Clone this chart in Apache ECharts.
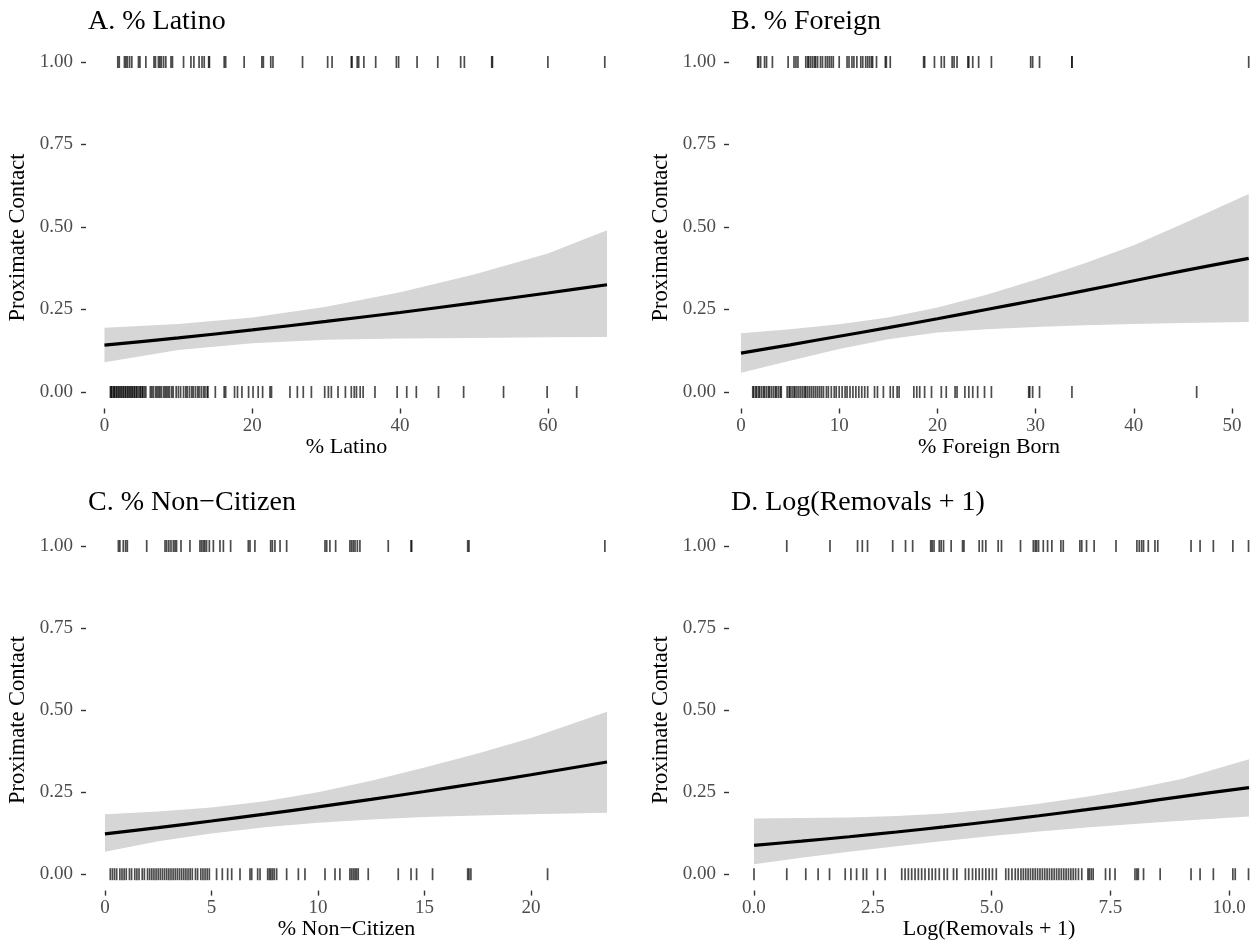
<!DOCTYPE html>
<html><head><meta charset="utf-8">
<script src="https://cdn.jsdelivr.net/npm/echarts@6/dist/echarts.min.js"></script>
<style>html,body{margin:0;padding:0;background:#fff}#c{width:1255px;height:951px}</style>
</head><body><div id="c"></div><script>
// ---------------- data ----------------
const yTicks = [0, 0.25, 0.5, 0.75, 1];
const latinoTicks = [0, 20, 40, 60];
const foreignTicks = [0, 10, 20, 30, 40, 50];
const nonCitTicks = [0, 5, 10, 15, 20];
const removalsTicks = [0, 2.5, 5, 7.5, 10];

// fitted curves and 95% bands
const latinoFitX = [0, 10, 20, 30, 40, 50, 60, 68.0];
const latinoFit  = [0.142, 0.164, 0.188, 0.214, 0.241, 0.270, 0.300, 0.325];
const latinoHi   = [0.195, 0.206, 0.226, 0.258, 0.302, 0.356, 0.420, 0.490];
const latinoLo   = [0.090, 0.127, 0.148, 0.158, 0.162, 0.164, 0.166, 0.167];

const foreignFitX = [0, 5, 10, 15, 20, 25, 30, 35, 40, 45, 51.7];
const foreignFit  = [0.118, 0.143, 0.169, 0.195, 0.222, 0.250, 0.278, 0.307, 0.337, 0.367, 0.405];
const foreignHi   = [0.178, 0.190, 0.205, 0.226, 0.256, 0.295, 0.340, 0.390, 0.445, 0.510, 0.600];
const foreignLo   = [0.058, 0.095, 0.130, 0.160, 0.180, 0.190, 0.197, 0.202, 0.206, 0.209, 0.212];

const nonCitFitX = [0, 2.5, 5, 7.5, 10, 12.5, 15, 17.5, 20, 23.57];
const nonCitFit  = [0.123, 0.142, 0.162, 0.183, 0.205, 0.228, 0.252, 0.277, 0.303, 0.342];
const nonCitHi   = [0.183, 0.191, 0.203, 0.222, 0.250, 0.285, 0.325, 0.368, 0.415, 0.495];
const nonCitLo   = [0.068, 0.100, 0.124, 0.143, 0.157, 0.167, 0.174, 0.179, 0.183, 0.187];

const removalsFitX = [0, 1, 2, 3, 4, 5, 6, 7, 8, 9, 10.42];
const removalsFit  = [0.088, 0.1005, 0.114, 0.1285, 0.144, 0.1605, 0.178, 0.1965, 0.216, 0.2365, 0.264];
const removalsHi   = [0.170, 0.171, 0.173, 0.177, 0.185, 0.198, 0.215, 0.236, 0.260, 0.290, 0.350];
const removalsLo   = [0.030, 0.050, 0.068, 0.085, 0.101, 0.116, 0.130, 0.142, 0.153, 0.163, 0.176];

// observed outcomes (rug marks) at y = 1 and y = 0
const latino1 = [1.8,2.0,2.7,2.9,3.1,3.4,3.7,4.6,4.8,5.6,6.7,6.9,7.3,7.5,7.7,8.0,8.3,9.0,9.2,10.7,11.7,12.1,12.8,13.2,13.5,14.1,14.2,16.2,16.4,18.9,21.3,21.5,22.5,22.8,26.8,30.2,30.8,33.4,33.5,34.2,34.4,35.1,36.7,39.5,39.8,42.3,45.1,48.2,48.7,52.4,52.5,60.0,67.7];
const latino0 = [0.8,0.9,1.0,1.2,1.3,1.4,1.6,1.7,1.9,2.0,2.2,2.3,2.5,2.6,2.8,2.9,3.1,3.2,3.4,3.5,3.7,3.8,4.0,4.1,4.3,4.4,4.6,4.8,4.9,5.1,5.2,5.4,5.6,6.2,6.4,6.6,6.9,7.1,7.3,7.5,7.7,8.0,8.2,8.4,8.6,8.8,9.1,9.3,9.7,10.0,10.3,10.7,11.0,11.2,11.5,11.8,12.0,12.3,12.6,12.8,13.1,13.4,13.6,13.9,14.0,15.0,16.2,16.4,17.6,18.0,18.6,19.5,20.1,20.8,21.4,22.4,22.6,25.1,26.1,26.9,28.0,29.8,30.3,30.7,31.6,32.6,33.4,33.8,34.1,34.6,35.0,36.6,39.6,40.9,42.2,45.2,48.6,54.0,59.9,63.9];

const foreign1 = [1.7,1.8,2.0,2.4,2.6,3.2,4.8,5.4,5.6,5.8,6.6,6.8,6.9,7.1,7.3,7.5,7.6,7.8,8.1,8.3,8.6,8.8,9.0,9.2,9.4,10.0,10.8,11.0,11.3,11.5,11.8,12.2,12.4,12.7,12.9,13.1,13.3,13.4,13.8,14.7,14.8,15.2,18.6,18.7,19.7,20.4,20.7,21.5,21.7,22.0,23.1,23.2,23.6,24.2,25.5,29.5,29.7,30.4,33.7,33.7,51.7];
const foreign0 = [1.2,1.3,1.5,1.6,1.8,1.9,2.1,2.3,2.4,2.6,2.8,2.9,3.1,3.3,3.5,3.6,3.8,4.0,4.1,4.7,4.9,5.0,5.2,5.4,5.5,5.7,5.9,6.1,6.3,6.5,6.6,6.8,7.0,7.2,7.4,7.6,7.8,8.0,8.2,8.4,8.7,8.9,9.2,9.5,9.7,10.0,10.3,10.6,10.8,11.1,11.4,11.7,12.0,12.3,12.6,12.9,13.6,13.9,14.5,15.2,15.5,15.9,16.1,17.6,17.9,18.2,18.7,19.4,20.4,20.9,21.8,22.0,22.8,23.2,23.6,24.1,24.8,25.5,29.3,29.4,29.7,30.4,33.7,46.4];

const nonCit1 = [0.63,0.70,0.86,0.97,1.05,1.96,2.82,2.90,3.0,3.1,3.21,3.29,3.36,3.57,3.99,4.46,4.54,4.62,4.69,4.77,4.90,5.09,5.40,5.56,5.90,6.73,6.81,7.04,7.78,7.86,7.98,8.22,8.53,10.33,10.41,10.56,10.83,11.5,11.58,11.66,11.74,11.85,11.97,13.3,14.37,14.4,17.03,17.09,23.47];
const nonCit0 = [0.25,0.35,0.45,0.55,0.7,0.8,0.9,1.0,1.15,1.25,1.4,1.5,1.6,1.75,1.85,2.0,2.1,2.2,2.3,2.4,2.5,2.6,2.7,2.8,2.9,3.0,3.1,3.2,3.3,3.4,3.5,3.6,3.7,3.8,3.9,4.0,4.1,4.25,4.35,4.5,4.6,4.7,4.8,4.9,5.24,5.51,5.76,5.95,6.34,6.81,6.89,7.17,7.28,7.64,7.72,7.79,7.87,7.95,8.06,8.53,9.08,9.39,10.33,10.8,11.03,11.5,11.58,11.66,11.74,11.81,11.89,12.36,13.77,14.37,14.63,15.38,17.03,17.09,17.18,20.78];

const removals1 = [0.69,1.6,2.18,2.28,2.39,2.92,3.19,3.34,3.72,3.75,3.79,3.90,3.94,3.99,4.15,4.39,4.42,4.74,4.81,4.88,5.14,5.21,5.61,5.88,5.92,5.95,5.99,6.09,6.18,6.27,6.46,6.51,6.86,6.9,7.0,7.16,7.62,8.06,8.11,8.16,8.2,8.3,8.44,8.5,9.2,9.39,9.67,10.08,10.41];
const removals0 = [0,0.69,1.09,1.35,1.59,1.92,2.04,2.16,2.3,2.37,2.6,2.76,3.11,3.18,3.25,3.32,3.39,3.46,3.53,3.6,3.68,3.75,3.82,3.9,4.0,4.07,4.2,4.27,4.45,4.52,4.6,4.67,4.74,4.81,4.88,4.95,5.02,5.1,5.3,5.36,5.43,5.5,5.56,5.62,5.67,5.72,5.77,5.82,5.87,5.92,5.97,6.02,6.07,6.12,6.17,6.22,6.27,6.32,6.37,6.42,6.47,6.52,6.57,6.62,6.67,6.72,6.77,6.83,6.9,7.03,7.06,7.1,7.14,7.4,7.49,7.6,8.02,8.06,8.09,8.2,8.55,9.2,9.39,9.67,10.08,10.13,10.41];

// ---------------- layout / style ----------------
const FONT = '"Liberation Serif","Times New Roman",serif';
const panels = [
  {title:'A. % Latino', xname:'% Latino', left:86, top:45.5, width:521, height:363, xmin:-2.5, xmax:68.0, ticks:latinoTicks, dec:0, ty:22, ny:237.5,
   fx:latinoFitX, fit:latinoFit, hi:latinoHi, lo:latinoLo, r1:latino1, r0:latino0},
  {title:'B. % Foreign', xname:'% Foreign Born', left:729, top:45.5, width:520, height:363, xmin:-1.22, xmax:51.73, ticks:foreignTicks, dec:0, ty:22, ny:237.5,
   fx:foreignFitX, fit:foreignFit, hi:foreignHi, lo:foreignLo, r1:foreign1, r0:foreign0},
  {title:'C. % Non\u2212Citizen', xname:'% Non\u2212Citizen', left:86, top:529.6, width:521, height:361, xmin:-0.89, xmax:23.57, ticks:nonCitTicks, dec:0, ty:503, ny:720,
   fx:nonCitFitX, fit:nonCitFit, hi:nonCitHi, lo:nonCitLo, r1:nonCit1, r0:nonCit0},
  {title:'D. Log(Removals + 1)', xname:'Log(Removals + 1)', left:729, top:529.6, width:520, height:361, xmin:-0.526, xmax:10.42, ticks:removalsTicks, dec:1, ty:503, ny:720,
   fx:removalsFitX, fit:removalsFit, hi:removalsHi, lo:removalsLo, r1:removals1, r0:removals0}
];

const grid = [], xAxis = [], yAxis = [], series = [], graphic = [];
panels.forEach((p, i) => {
  grid.push({left:p.left, top:p.top, width:p.width, height:p.height, containLabel:false, outerBoundsMode:'none'});
  xAxis.push({
    type:'value', gridIndex:i, min:p.xmin, max:p.xmax,
    axisLine:{show:false, onZero:false}, splitLine:{show:false},
    axisTick:{show:true, length:5, lineStyle:{color:'#333', width:1.4}, customValues:p.ticks},
    axisLabel:{color:'#4D4D4D', fontFamily:FONT, fontSize:19, margin:8, customValues:p.ticks,
      formatter:(v)=>Number(v).toFixed(p.dec)},
    name:p.xname, nameLocation:'middle', nameGap:28,
    nameTextStyle:{color:'#000', fontFamily:FONT, fontSize:22}
  });
  yAxis.push({
    type:'value', gridIndex:i, min:-0.05, max:1.05,
    axisLine:{show:false, onZero:false}, splitLine:{show:false},
    axisTick:{show:true, length:5, lineStyle:{color:'#333', width:1.4}, customValues:yTicks},
    axisLabel:{color:'#4D4D4D', fontFamily:FONT, fontSize:19, margin:13, customValues:yTicks,
      formatter:(v)=>Number(v).toFixed(2)}
  });
  // confidence band as a polygon through the axis scales
  series.push({type:'custom', xAxisIndex:i, yAxisIndex:i, silent:true, z:1, data:[[p.fx[0], p.lo[0]]],
    renderItem:(params, api) => {
      const pts = p.fx.map((x, j) => api.coord([x, p.hi[j]]));
      for (let j = p.fx.length - 1; j >= 0; j--) pts.push(api.coord([p.fx[j], p.lo[j]]));
      return {type:'polygon', shape:{points:pts}, style:{fill:'#D6D6D6'}};
    }});
  series.push({type:'line', xAxisIndex:i, yAxisIndex:i, silent:true, symbol:'none', smooth:0.3,
    lineStyle:{color:'#000', width:3.2}, data:p.fx.map((x, j) => [x, p.fit[j]]), z:3});
  series.push({type:'scatter', xAxisIndex:i, yAxisIndex:i, silent:true, symbol:'rect', symbolSize:[1.7, 12],
    itemStyle:{color:'rgba(0,0,0,0.88)'}, data:p.r1.map(x => [x, 1]), z:4});
  series.push({type:'scatter', xAxisIndex:i, yAxisIndex:i, silent:true, symbol:'rect', symbolSize:[1.7, 12],
    itemStyle:{color:'rgba(0,0,0,0.88)'}, data:p.r0.map(x => [x, 0]), z:4});
  graphic.push({type:'text', x:p.left + 2, y:p.ty, silent:true,
    style:{text:p.title, fill:'#000', fontFamily:FONT, fontSize:28, align:'left', verticalAlign:'middle'}});
  graphic.push({type:'text', x:p.left - 68, y:p.ny, rotation:Math.PI / 2, silent:true,
    style:{text:'Proximate Contact', fill:'#000', fontFamily:FONT, fontSize:22.5, align:'center', verticalAlign:'middle'}});
});

const chart = echarts.init(document.getElementById('c'), null, {renderer:'canvas'});
chart.setOption({animation:false, backgroundColor:'#fff', grid, xAxis, yAxis, series, graphic});
</script></body></html>
